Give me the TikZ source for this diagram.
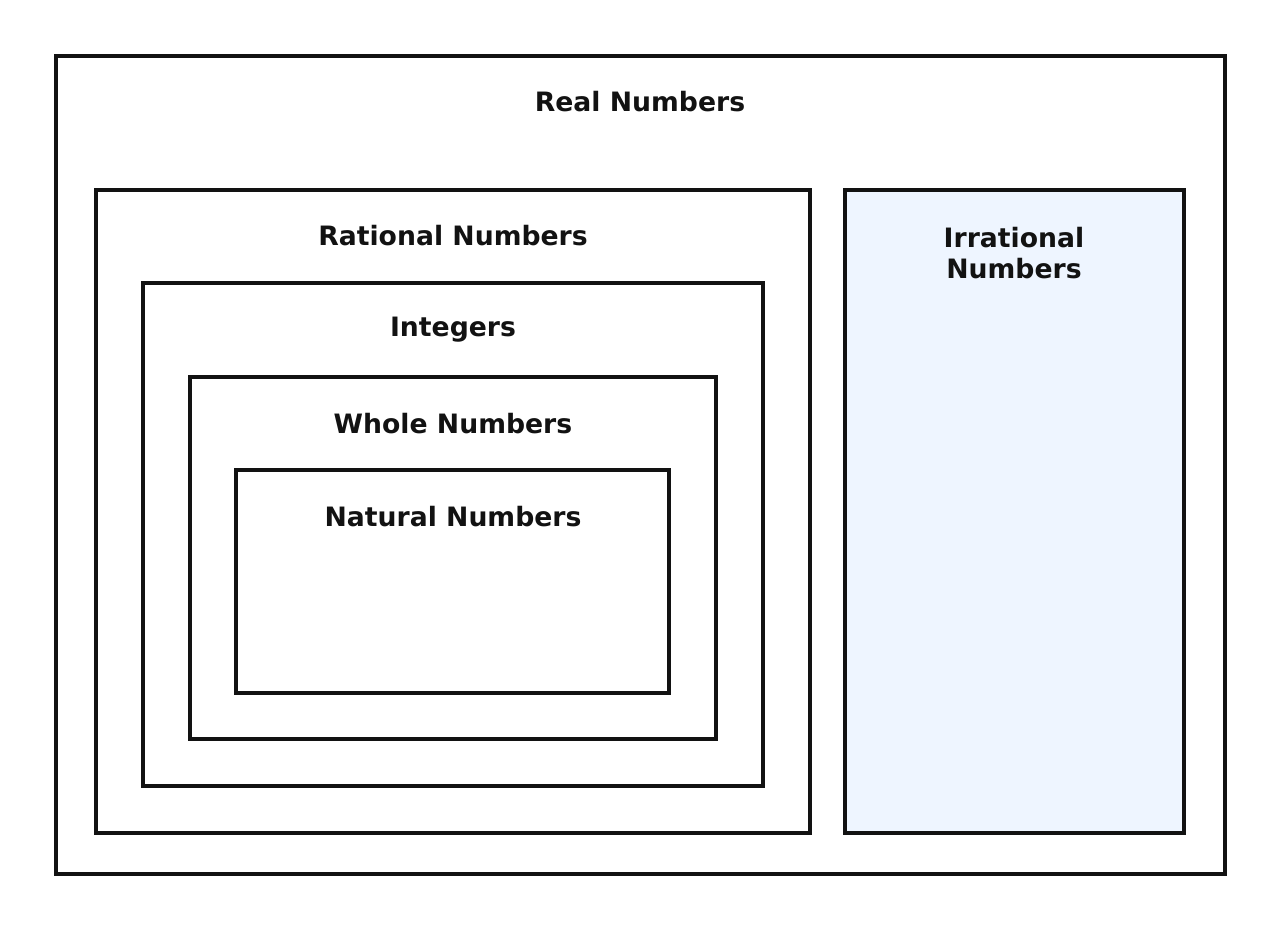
\documentclass[tikz,border=0pt]{standalone}
\usepackage{fontspec}
\setmainfont{DejaVu Sans}
\begin{document}
\begin{tikzpicture}[x=0.75pt,y=-0.75pt,
  box/.style={draw=black!93,line width=3pt},
  lab/.style={font=\bfseries\fontsize{20}{23}\selectfont,text=black!93,align=center}]
\useasboundingbox (0,0) rectangle (1280,929);
\draw[box] (56,56) rectangle (1225,874);
\draw[box] (96,190) rectangle (810,833);
\draw[box,fill={rgb,255:red,238;green,245;blue,255}] (845,190) rectangle (1184,833);
\draw[box] (143,283) rectangle (763,786);
\draw[box] (190,377) rectangle (716,739);
\draw[box] (236,470) rectangle (669,693);
\node[lab] (real) at (640,102) {Real Numbers};
\node[lab] (rat) at (453,236) {Rational Numbers};
\node[lab] (irr) at (1014,253) {Irrational\\Numbers};
\node[lab] (int) at (453,330) {Integers};
\node[lab] (whole) at (453,424) {Whole Numbers};
\node[lab] (nat) at (453,517) {Natural Numbers};
\end{tikzpicture}
\end{document}
